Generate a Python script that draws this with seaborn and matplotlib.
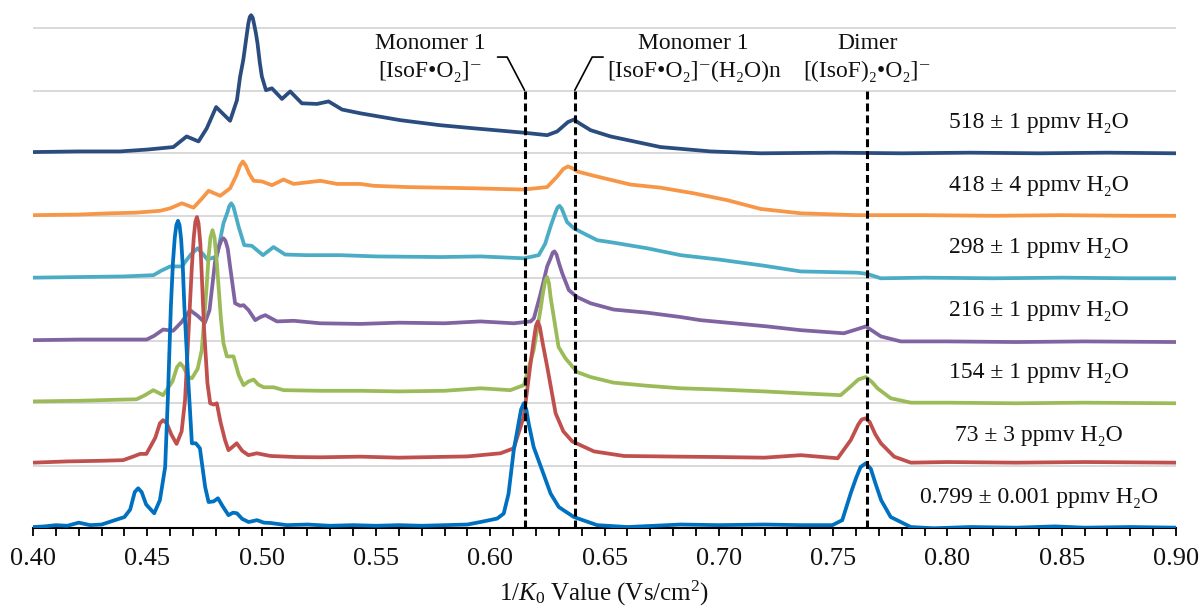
import matplotlib
matplotlib.use("Agg")
import matplotlib.pyplot as plt
import seaborn as sns
import pandas as pd

# ---------------- data ----------------
series_labels = ["0.799 ± 0.001 ppmv H₂O", "73 ± 3 ppmv H₂O", "154 ± 1 ppmv H₂O",
                 "216 ± 1 ppmv H₂O", "298 ± 1 ppmv H₂O", "418 ± 4 ppmv H₂O",
                 "518 ± 1 ppmv H₂O"]
series_offsets = [0, 1, 2, 3, 4, 5, 6]
series_colors = ["#0070C0", "#C0504D", "#9BBB59", "#8064A2", "#4BACC6", "#F79646", "#2B4C7E"]

x_0799 = [0.400, 0.405, 0.410, 0.415, 0.420, 0.425, 0.430, 0.435, 0.440, 0.4425, 0.4445, 0.446,
          0.4475, 0.4495, 0.453, 0.4555, 0.4578, 0.4590, 0.4603, 0.4612, 0.4620, 0.4627, 0.4634,
          0.4641, 0.4648, 0.4655, 0.4662, 0.4680, 0.4695, 0.4712, 0.4730, 0.4753, 0.4768, 0.4790,
          0.4809, 0.4830, 0.4855, 0.4875, 0.4892, 0.4915, 0.4943, 0.4980, 0.5010, 0.5038, 0.511,
          0.520, 0.530, 0.540, 0.550, 0.560, 0.570, 0.580, 0.590, 0.5957, 0.603, 0.6059, 0.6080,
          0.6103, 0.6125, 0.6135, 0.6147, 0.6158, 0.6168, 0.6190, 0.6227, 0.6264, 0.630, 0.6366,
          0.6468, 0.660, 0.6833, 0.700, 0.720, 0.7358, 0.7497, 0.754, 0.7577, 0.7600, 0.7620,
          0.7643, 0.7665, 0.7685, 0.7710, 0.7752, 0.784, 0.794, 0.810, 0.830, 0.847, 0.860,
          0.880, 0.900]
y_0799 = [0.02, 0.03, 0.05, 0.04, 0.09, 0.05, 0.06, 0.12, 0.18, 0.30, 0.58, 0.64,
          0.58, 0.38, 0.24, 0.45, 0.98, 2.10, 3.55, 4.25, 4.65, 4.85, 4.92,
          4.85, 4.62, 4.20, 3.55, 2.30, 1.36, 1.36, 1.28, 0.66, 0.42, 0.43,
          0.48, 0.35, 0.21, 0.25, 0.24, 0.15, 0.10, 0.13, 0.09, 0.085, 0.05,
          0.06, 0.04, 0.05, 0.04, 0.05, 0.04, 0.05, 0.06, 0.10, 0.155, 0.235, 0.55,
          1.25, 1.70, 1.90, 2.00, 1.90, 1.68, 1.30, 0.93, 0.556, 0.34, 0.18,
          0.05, 0.02, 0.06, 0.05, 0.06, 0.05, 0.05, 0.13, 0.56, 0.80, 0.98,
          1.04, 0.95, 0.72, 0.45, 0.18, 0.02, 0.00, 0.02, 0.01, 0.03, 0.01,
          0.02, 0.01]

x_73 = [0.400, 0.415, 0.430, 0.4394, 0.4440, 0.4468, 0.4496, 0.4535, 0.4555, 0.4569, 0.4585,
        0.4605, 0.4628, 0.4650, 0.4665, 0.4680, 0.4695, 0.4703, 0.4710, 0.4717, 0.4724, 0.4732,
        0.4740, 0.4748, 0.4763, 0.4775, 0.4790, 0.4804, 0.4820, 0.4840, 0.4855, 0.4872, 0.4891,
        0.4915, 0.4942, 0.4979, 0.5038, 0.515, 0.5257, 0.5432, 0.560, 0.575, 0.590, 0.6045,
        0.6103, 0.6147, 0.6175, 0.6190, 0.6200, 0.6208, 0.6217, 0.6230, 0.6249, 0.6286, 0.6320,
        0.6359, 0.6454, 0.6585, 0.6833, 0.700, 0.720, 0.7358, 0.752, 0.7577, 0.7610, 0.7625,
        0.7643, 0.7660, 0.7685, 0.7709, 0.7767, 0.784, 0.800, 0.830, 0.860, 0.900]
y_73 = [0.05, 0.07, 0.08, 0.09, 0.15, 0.19, 0.19, 0.45, 0.68, 0.73, 0.68,
        0.50, 0.35, 0.55, 1.05, 2.12, 3.20, 3.65, 3.90, 3.98, 3.88, 3.55,
        2.90, 2.20, 1.32, 1.00, 0.98, 1.00, 0.70, 0.41, 0.25, 0.30, 0.36,
        0.24, 0.17, 0.20, 0.157, 0.14, 0.136, 0.146, 0.13, 0.14, 0.15, 0.20,
        0.28, 0.79, 1.60, 2.00, 2.24, 2.31, 2.22, 1.95, 1.59, 0.84, 0.55,
        0.39, 0.23, 0.157, 0.146, 0.14, 0.13, 0.17, 0.12, 0.41, 0.66, 0.74,
        0.76, 0.70, 0.50, 0.36, 0.146, 0.05, 0.06, 0.05, 0.06, 0.05]

x_154 = [0.400, 0.420, 0.440, 0.4453, 0.4490, 0.4526, 0.4569, 0.4610, 0.4630, 0.4644, 0.4658,
         0.4680, 0.4695, 0.4720, 0.4738, 0.4750, 0.4760, 0.4768, 0.4776, 0.4785, 0.4794, 0.4803,
         0.4812, 0.4822, 0.4833, 0.4848, 0.4877, 0.4900, 0.4921, 0.4943, 0.4965, 0.4985, 0.5009,
         0.5053, 0.5096, 0.5257, 0.543, 0.560, 0.580, 0.5957, 0.6088, 0.6147, 0.6190, 0.6220,
         0.6230, 0.6240, 0.6249, 0.6257, 0.6264, 0.6299, 0.6329, 0.6380, 0.6439, 0.6540, 0.6687,
         0.6833, 0.700, 0.720, 0.7358, 0.7533, 0.7577, 0.7610, 0.7643, 0.7670, 0.7694, 0.7752,
         0.784, 0.800, 0.830, 0.860, 0.900]
y_154 = [0.03, 0.04, 0.06, 0.064, 0.13, 0.21, 0.13, 0.35, 0.58, 0.64, 0.58,
         0.42, 0.40, 0.55, 0.85, 1.40, 1.90, 2.35, 2.65, 2.77, 2.65, 2.30,
         1.85, 1.35, 0.96, 0.75, 0.75, 0.45, 0.29, 0.35, 0.38, 0.30, 0.256,
         0.256, 0.21, 0.20, 0.20, 0.19, 0.20, 0.24, 0.21, 0.29, 0.85, 1.50,
         1.75, 1.95, 2.02, 1.92, 1.70, 0.90, 0.72, 0.50, 0.42, 0.33, 0.28,
         0.24, 0.22, 0.19, 0.16, 0.13, 0.27, 0.38, 0.42, 0.34, 0.24, 0.08,
         0.01, 0.01, 0.00, 0.01, 0.00]

x_216 = [0.400, 0.420, 0.440, 0.4497, 0.4530, 0.4569, 0.4613, 0.4650, 0.4687, 0.4720, 0.4752,
         0.4772, 0.4797, 0.4815, 0.4824, 0.4833, 0.4842, 0.4852, 0.4862, 0.4884, 0.4906, 0.4921,
         0.4943, 0.4972, 0.4995, 0.5016, 0.5067, 0.5141, 0.5257, 0.5432, 0.560, 0.580, 0.5957,
         0.6103, 0.6177, 0.6191, 0.6220, 0.6249, 0.6265, 0.6273, 0.6281, 0.6290, 0.6300, 0.6315,
         0.6344, 0.6380, 0.6439, 0.6540, 0.6686, 0.6833, 0.692, 0.7212, 0.7358, 0.7547, 0.7600,
         0.7643, 0.7709, 0.7796, 0.800, 0.830, 0.860, 0.900]
y_216 = [0.01, 0.02, 0.02, 0.02, 0.08, 0.18, 0.16, 0.30, 0.49, 0.40, 0.29,
         0.49, 1.29, 1.52, 1.61, 1.64, 1.60, 1.47, 1.19, 0.60, 0.56, 0.57,
         0.49, 0.33, 0.38, 0.41, 0.31, 0.32, 0.28, 0.27, 0.29, 0.28, 0.31,
         0.28, 0.31, 0.36, 0.75, 1.19, 1.33, 1.41, 1.43, 1.38, 1.25, 1.08,
         0.81, 0.70, 0.60, 0.50, 0.45, 0.38, 0.33, 0.23, 0.17, 0.12, 0.18,
         0.23, 0.07, -0.01, -0.01, -0.02, -0.01, -0.02]

x_298 = [0.400, 0.420, 0.440, 0.4527, 0.4560, 0.4600, 0.4651, 0.4690, 0.4720, 0.4745, 0.4763,
         0.4804, 0.4833, 0.4850, 0.4858, 0.4867, 0.4876, 0.4885, 0.4899, 0.4924, 0.4957, 0.5006,
         0.5052, 0.5103, 0.5198, 0.5344, 0.5500, 0.5782, 0.5957, 0.6147, 0.6212, 0.6240, 0.6264,
         0.6285, 0.6294, 0.6303, 0.6312, 0.6320, 0.6336, 0.6366, 0.6424, 0.6468, 0.6540, 0.6687,
         0.6833, 0.700, 0.720, 0.7358, 0.7606, 0.7650, 0.7708, 0.790, 0.820, 0.850, 0.880, 0.900]
y_298 = [0.01, 0.02, 0.03, 0.05, 0.12, 0.19, 0.19, 0.38, 0.48, 0.38, 0.30,
         0.35, 0.88, 1.05, 1.15, 1.20, 1.15, 1.03, 0.83, 0.53, 0.52, 0.37,
         0.50, 0.38, 0.37, 0.37, 0.35, 0.34, 0.35, 0.32, 0.37, 0.55, 0.83,
         1.05, 1.13, 1.16, 1.12, 1.05, 0.90, 0.80, 0.69, 0.61, 0.57, 0.48,
         0.37, 0.30, 0.20, 0.11, 0.09, 0.07, 0.00, 0.01, 0.00, 0.01, 0.00, 0.00]

x_418 = [0.400, 0.420, 0.4337, 0.4450, 0.4556, 0.4600, 0.4651, 0.4702, 0.4740, 0.4768, 0.4819,
         0.4862, 0.4890, 0.4905, 0.4918, 0.4931, 0.4945, 0.4965, 0.5001, 0.5045, 0.5096, 0.5140,
         0.5257, 0.5330, 0.5432, 0.5490, 0.5636, 0.5928, 0.6147, 0.6249, 0.6293, 0.6320, 0.6340,
         0.6360, 0.6380, 0.6454, 0.6613, 0.6745, 0.6890, 0.7037, 0.7183, 0.7358, 0.760, 0.790,
         0.820, 0.850, 0.880, 0.900]
y_418 = [0.01, 0.02, 0.04, 0.05, 0.08, 0.12, 0.20, 0.13, 0.28, 0.40, 0.32,
         0.44, 0.65, 0.80, 0.87, 0.80, 0.68, 0.56, 0.55, 0.49, 0.58, 0.51,
         0.56, 0.51, 0.51, 0.48, 0.46, 0.44, 0.42, 0.46, 0.63, 0.75, 0.79,
         0.76, 0.71, 0.64, 0.50, 0.45, 0.36, 0.25, 0.11, 0.04, 0.01, 0.01,
         0.00, 0.01, 0.00, 0.00]

x_518 = [0.400, 0.420, 0.438, 0.450, 0.4614, 0.4672, 0.4724, 0.4760, 0.4801, 0.4862, 0.4892,
         0.4906, 0.4920, 0.4935, 0.4942, 0.4948, 0.4954, 0.4961, 0.4968, 0.4975, 0.4982, 0.4992,
         0.5001, 0.5019, 0.5045, 0.5089, 0.5125, 0.5176, 0.5242, 0.5293, 0.5352, 0.5432, 0.5607,
         0.5780, 0.5928, 0.6147, 0.6249, 0.6293, 0.6340, 0.6366, 0.6390, 0.6439, 0.6526, 0.6745,
         0.6964, 0.7183, 0.750, 0.780, 0.810, 0.840, 0.870, 0.900]
y_518 = [0.02, 0.03, 0.03, 0.06, 0.10, 0.27, 0.19, 0.40, 0.74, 0.52, 0.85,
         1.23, 1.50, 1.90, 2.08, 2.18, 2.21, 2.17, 2.05, 1.92, 1.76, 1.45,
         1.23, 1.01, 1.04, 0.87, 0.99, 0.80, 0.79, 0.83, 0.70, 0.64, 0.53,
         0.45, 0.40, 0.33, 0.29, 0.35, 0.50, 0.54, 0.48, 0.37, 0.27, 0.10,
         0.03, 0.00, 0.01, 0.00, 0.01, 0.00, 0.01, 0.00]

series_x = [x_0799, x_73, x_154, x_216, x_298, x_418, x_518]
series_y = [y_0799, y_73, y_154, y_216, y_298, y_418, y_518]

marker_positions = [0.615, 0.637, 0.765]
marker_titles = ["Monomer 1", "Monomer 1", "Dimer"]
marker_formulas = ["[IsoF•O₂]⁻", "[IsoF•O₂]⁻(H₂O)n", "[(IsoF)₂•O₂]⁻"]

xtick_values = [0.40, 0.45, 0.50, 0.55, 0.60, 0.65, 0.70, 0.75, 0.80, 0.85, 0.90]
xlabel_text = r"1/$K_0$ Value (Vs/cm$^2$)"

# ---------------- styling ----------------
sns.set_theme(style="white")
serif = ["Liberation Serif", "DejaVu Serif"]
plt.rcParams["font.family"] = serif
plt.rcParams["mathtext.fontset"] = "custom"
plt.rcParams["mathtext.rm"] = "Liberation Serif"
plt.rcParams["mathtext.it"] = "Liberation Serif:italic"

fig = plt.figure(figsize=(12.01, 6.12), dpi=100)
ax = fig.add_axes([0.0275, 0.1368, 0.9517, 0.8632])
ax.set_xlim(0.40, 0.90)
ax.set_ylim(0, 8.453)

# horizontal gridlines
for g in range(1, 9):
    ax.axhline(g, color="#d9d9d9", lw=1.4, zorder=0)

# traces (top first so lower traces draw over)
for i in reversed(range(len(series_x))):
    df = pd.DataFrame({"x": series_x[i],
                       "y": [v + series_offsets[i] for v in series_y[i]]})
    sns.lineplot(data=df, x="x", y="y", ax=ax, color=series_colors[i], lw=2.7,
                 sort=False, estimator=None, legend=False, zorder=3 + (6 - i) * 0.01,
                 solid_joinstyle="round", solid_capstyle="round")
    ax.text(0.84, series_offsets[i] + 0.49, series_labels[i], ha="center", va="center",
            fontsize=17, color="#111111", family=serif, zorder=5)

# dashed marker lines with leaders
line_top = 7.01
for k, xp in enumerate(marker_positions):
    ax.plot([xp, xp], [0, line_top], color="black", lw=2.2, dashes=(2.6, 1.3), zorder=6)

lead_y = 7.54
ax.plot([0.6032, 0.6074, marker_positions[0]], [lead_y, lead_y, line_top], color="black", lw=1.2, zorder=6)
ax.plot([0.6494, 0.6446, marker_positions[1]], [lead_y, lead_y, line_top], color="black", lw=1.2, zorder=6)

text_x = [0.5738, 0.6890, 0.7651]
for k in range(3):
    ax.text(text_x[k], 7.75, marker_titles[k], ha="center", va="center", fontsize=17,
            color="#111111", family=serif)
    ax.text(text_x[k], 7.31, marker_formulas[k], ha="center", va="center", fontsize=17,
            color="#111111", family=serif)

# axes appearance
for s in ["left", "right", "top"]:
    ax.spines[s].set_visible(False)
ax.spines["bottom"].set_color("black")
ax.spines["bottom"].set_linewidth(1.5)
ax.set_yticks([])
ax.set_xticks(xtick_values)
ax.set_xticklabels([f"{v:.2f}" for v in xtick_values])
ax.set_xticks([0.40 + 0.01 * i for i in range(51)], minor=True)
ax.tick_params(axis="x", which="both", direction="out", length=5.5, width=1.3,
               color="black", bottom=True)
ax.tick_params(axis="x", which="major", labelsize=19, pad=9, labelcolor="#111111")
ax.set_xlabel(xlabel_text, fontsize=18, color="#111111", labelpad=6)
ax.set_ylabel("")
ax.grid(False)

fig.savefig("out.png", dpi=100)
